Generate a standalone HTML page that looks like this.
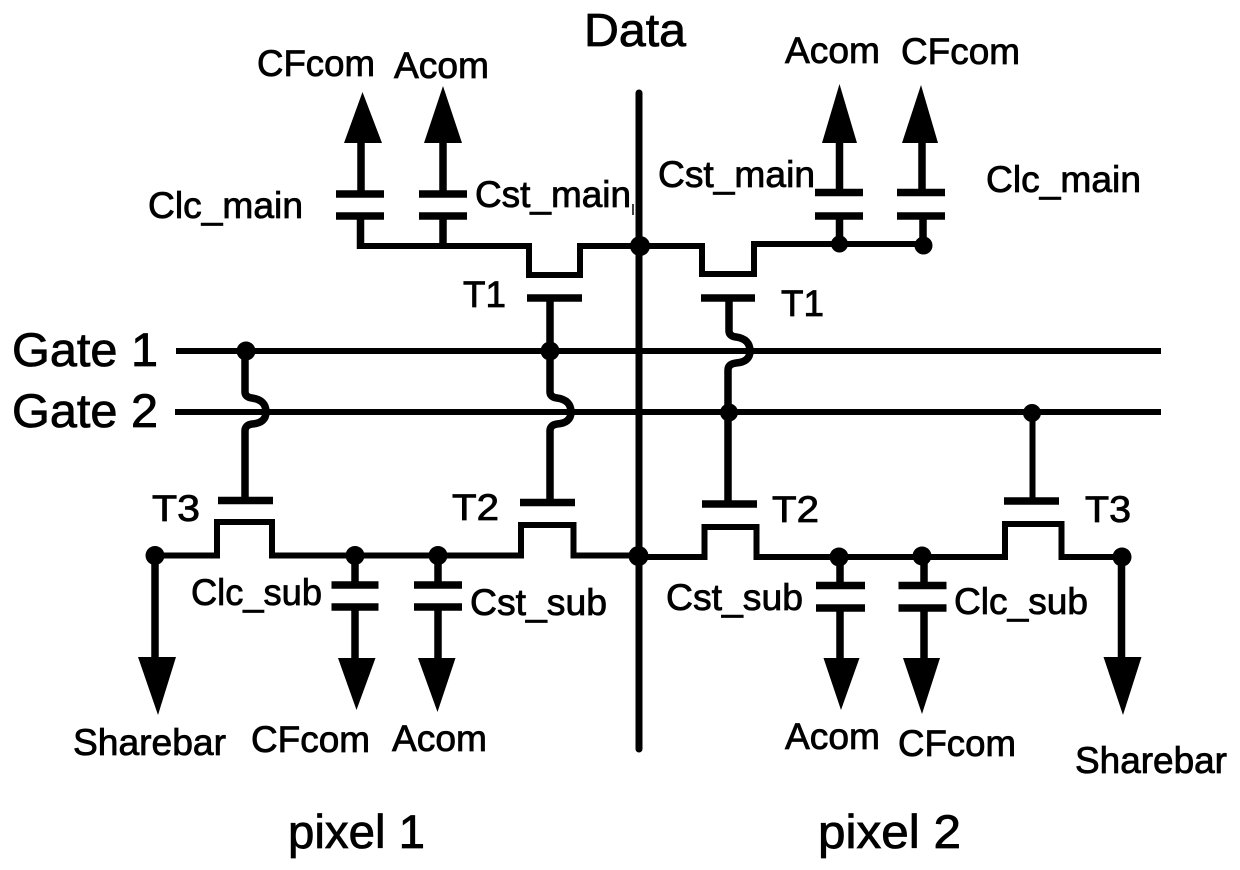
<!DOCTYPE html>
<html><head><meta charset="utf-8"><style>
html,body{margin:0;padding:0;background:#fff}
svg{display:block}
text{font-family:"Liberation Sans",sans-serif;fill:#000;stroke:#000;stroke-width:.8}
.l{fill:none;stroke:#000;stroke-width:6}
.s{fill:none;stroke:#000;stroke-width:7.5}
.p{stroke:#000;stroke-width:7.5;fill:none;stroke-linecap:butt}
</style></head><body>
<svg width="1240" height="870" viewBox="0 0 1240 870" xmlns="http://www.w3.org/2000/svg">
<!-- Data line -->
<path d="M639 93V749" fill="none" stroke="#000" stroke-width="7" stroke-linecap="round"/>
<path d="M633 204V215" fill="none" stroke="#000" stroke-width="1.5"/>
<!-- gates -->
<path class="l" d="M176 351H1161"/>
<path class="l" d="M175 412H1161"/>
<!-- Top left -->
<path class="l" d="M360.500 216V246H529V275H580V246H639"/>
<path class="s" d="M361 143V194M443 143V194M443 216V246M360.500 216V249"/>
<path class="p" d="M336 194H384M336 216H384M419 194H467M419 216H467M527 298H582"/>
<path class="s" d="M550 298V392Q550 397 557 398Q571 400 571 412Q571 423 557 424Q550 425 550 431V502"/>
<polygon points="362.500,92 344,143 382,143"/>
<polygon points="443,86 424,143 462,143"/>
<!-- Top right -->
<path class="l" d="M639 246H702V274H754V244H923"/>
<path class="s" d="M839.500 143V192M922 143V192M839.500 216V244M923 216V245"/>
<path class="p" d="M815 192.500H863M815 216H863M897 192.500H945M897 216H945M701 298H755"/>
<path class="s" d="M729 298V331Q729 336 736 337Q750 339 750 351Q750 362 736 363Q728 364 728 370V504"/>
<polygon points="839.500,84 822,143 857,143"/>
<polygon points="921,85 902,143 938,143"/>
<!-- Gate stems -->
<path class="s" d="M245 351V392Q245 397 252 398Q266 400 266 412Q266 423 252 424Q245 425 245 431V500"/>
<path class="l" d="M1032.500 412V501"/>
<!-- Transistor gates bottom -->
<path class="p" d="M218 500.500H273M520 502.500H575M702 504H757M1004 501H1059"/>
<!-- Bottom bus -->
<path class="l" d="M155 555.500H217V522H272V555.500H521V525H573.500V555.500H639"/>
<path class="l" d="M639 557H704.500V527H756.500V557H1005V524H1061.500V557H1122"/>
<!-- Bottom stems -->
<path class="s" d="M155 556V662M355 556V585M355 607V662M438 556V585M438 607V662M840 557V585M840 608V662M924 557V585M924 608V662M1121.500 557V662"/>
<path class="p" d="M331.500 585H378.500M331.500 607H378.500M414 585H462M414 607H462M816 585.500H865M816 608H865M898.500 585.500H946.500M898.500 608H946.500"/>
<polygon points="158,715 138,657 176,657"/>
<polygon points="356.500,710 338,658 375.500,658"/>
<polygon points="437.500,712 418,658 455.500,658"/>
<polygon points="841,710 823.500,658 859.500,658"/>
<polygon points="922,714 903,658 940,658"/>
<polygon points="1123,715 1103.500,657 1141.500,657"/>
<!-- dots -->
<g>
<circle cx="246" cy="351" r="9.500"/><circle cx="550" cy="351" r="9.500"/><circle cx="640" cy="246" r="10"/>
<circle cx="839.500" cy="244" r="8.500"/><circle cx="923.500" cy="245.500" r="9"/>
<circle cx="729" cy="412.500" r="9"/><circle cx="1032" cy="413" r="9"/>
<circle cx="155" cy="555.500" r="9.500"/><circle cx="355" cy="555.500" r="9.500"/><circle cx="438" cy="555.500" r="9.500"/>
<circle cx="638.500" cy="556" r="10"/><circle cx="839" cy="557" r="9.500"/><circle cx="922" cy="556" r="9.500"/><circle cx="1122" cy="557" r="9.500"/>
</g>
<!-- Labels -->
<text x="584" y="46" font-size="46" textLength="102" lengthAdjust="spacingAndGlyphs">Data</text>
<g font-size="37">
<text x="257" y="76" textLength="118" lengthAdjust="spacingAndGlyphs">CFcom</text>
<text x="394" y="78" textLength="95" lengthAdjust="spacingAndGlyphs">Acom</text>
<text x="785" y="63" textLength="95" lengthAdjust="spacingAndGlyphs">Acom</text>
<text x="901" y="64" textLength="119" lengthAdjust="spacingAndGlyphs">CFcom</text>
<text x="148" y="218" textLength="155" lengthAdjust="spacingAndGlyphs">Clc_main</text>
<text x="475" y="207" textLength="156" lengthAdjust="spacingAndGlyphs">Cst_main</text>
<text x="658" y="187" textLength="157" lengthAdjust="spacingAndGlyphs">Cst_main</text>
<text x="986" y="192" textLength="155" lengthAdjust="spacingAndGlyphs">Clc_main</text>
<text x="463" y="307" textLength="43" lengthAdjust="spacingAndGlyphs">T1</text>
<text x="781" y="316" textLength="43" lengthAdjust="spacingAndGlyphs">T1</text>
<text x="152" y="521" textLength="48" lengthAdjust="spacingAndGlyphs">T3</text>
<text x="452" y="520" textLength="47" lengthAdjust="spacingAndGlyphs">T2</text>
<text x="772" y="522" textLength="47" lengthAdjust="spacingAndGlyphs">T2</text>
<text x="1085" y="522" textLength="46" lengthAdjust="spacingAndGlyphs">T3</text>
<text x="191" y="605" textLength="131" lengthAdjust="spacingAndGlyphs">Clc_sub</text>
<text x="470" y="615" textLength="137" lengthAdjust="spacingAndGlyphs">Cst_sub</text>
<text x="666" y="610" textLength="137" lengthAdjust="spacingAndGlyphs">Cst_sub</text>
<text x="954" y="614" textLength="134" lengthAdjust="spacingAndGlyphs">Clc_sub</text>
<text x="73" y="755" textLength="153" lengthAdjust="spacingAndGlyphs">Sharebar</text>
<text x="251" y="752" textLength="119" lengthAdjust="spacingAndGlyphs">CFcom</text>
<text x="392" y="751" textLength="95" lengthAdjust="spacingAndGlyphs">Acom</text>
<text x="785" y="749" textLength="95" lengthAdjust="spacingAndGlyphs">Acom</text>
<text x="898" y="756" textLength="118" lengthAdjust="spacingAndGlyphs">CFcom</text>
<text x="1075" y="773" textLength="152" lengthAdjust="spacingAndGlyphs">Sharebar</text>
</g>
<g font-size="47">
<text x="12" y="366" textLength="146" lengthAdjust="spacingAndGlyphs">Gate 1</text>
<text x="12" y="427" textLength="146" lengthAdjust="spacingAndGlyphs">Gate 2</text>
<text x="288" y="848" textLength="137" lengthAdjust="spacingAndGlyphs">pixel 1</text>
<text x="818" y="848" textLength="143" lengthAdjust="spacingAndGlyphs">pixel 2</text>
</g>
</svg>
</body></html>
